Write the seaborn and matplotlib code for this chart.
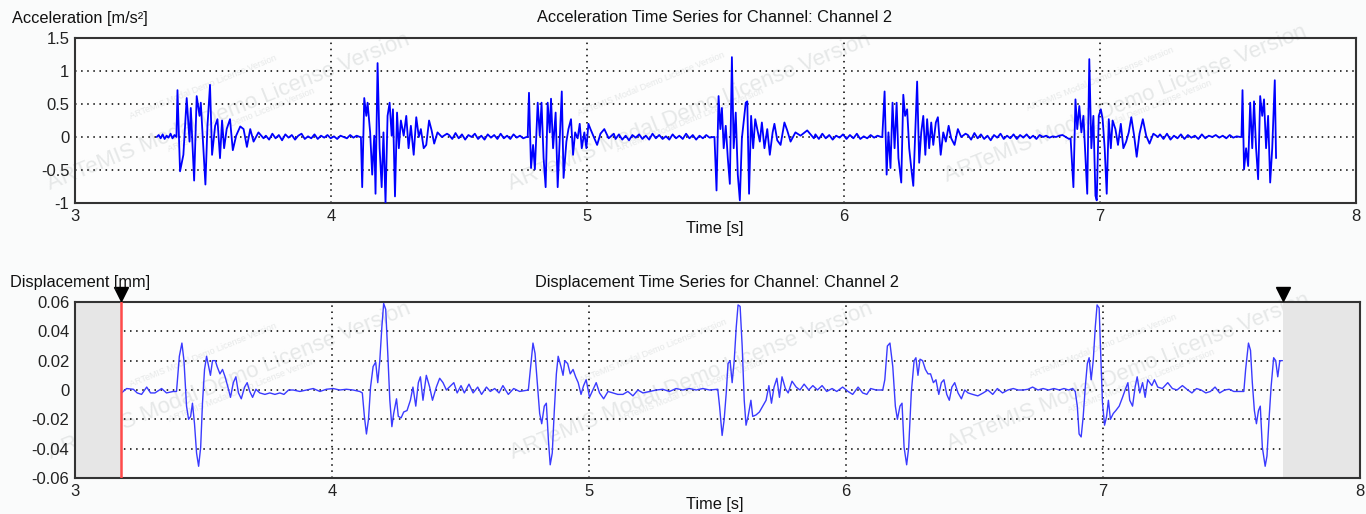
import numpy as np
import pandas as pd
import matplotlib
matplotlib.use("Agg")
import matplotlib.pyplot as plt
import seaborn as sns

sns.set_style("white")
plt.rcParams["font.family"] = ["Liberation Sans", "DejaVu Sans"]

# ---------------- Acceleration data [m/s^2] ----------------
ACC_B1_T = [3.400, 3.410, 3.423, 3.436, 3.447, 3.452, 3.465, 3.475, 3.486, 3.491, 3.501, 3.509, 3.517, 3.527,
            3.535, 3.547, 3.556, 3.566, 3.574, 3.582, 3.592, 3.605, 3.616, 3.629, 3.645, 3.658, 3.671, 3.684,
            3.697, 3.716, 3.736]
ACC_B1_V = [0.71, -0.52, -0.27, 0.59, -0.07, 0.44, -0.66, 0.62, 0.32, 0.52, -0.17, -0.72, 0.17, 0.79,
            -0.27, 0.17, 0.27, -0.32, 0.25, -0.17, 0.12, 0.27, -0.20, 0.02, 0.16, 0.12, -0.15, 0.12,
            -0.07, 0.07, -0.02]
ACC_B2_T = [4.116, 4.121, 4.129, 4.137, 4.142, 4.152, 4.160, 4.168, 4.173, 4.181, 4.189, 4.197, 4.204, 4.212,
            4.220, 4.228, 4.236, 4.241, 4.249, 4.257, 4.264, 4.272, 4.283, 4.293, 4.302, 4.311, 4.322, 4.332,
            4.342, 4.350, 4.361, 4.371, 4.382, 4.392, 4.402, 4.415, 4.432, 4.452]
ACC_B2_V = [0.00, -0.76, 0.59, 0.32, 0.52, 0.07, -0.57, 0.02, -0.86, 1.12, -0.17, -0.76, 0.07, -1.00,
            0.32, 0.52, 0.02, 0.42, -0.90, 0.37, -0.17, 0.25, 0.02, 0.32, -0.17, 0.17, -0.27, 0.30,
            0.00, 0.12, -0.17, -0.12, 0.25, 0.10, -0.10, 0.07, 0.00, 0.05]
ACC_B3_T = [4.767, 4.772, 4.780, 4.788, 4.795, 4.806, 4.814, 4.821, 4.829, 4.837, 4.845, 4.853, 4.858, 4.866,
            4.876, 4.884, 4.892, 4.900, 4.907, 4.918, 4.926, 4.936, 4.944, 4.952, 4.962, 4.970, 4.978, 4.988,
            4.996, 5.004, 5.012, 5.025, 5.038, 5.051, 5.066, 5.083, 5.103]
ACC_B3_V = [0.00, 0.67, -0.47, -0.12, -0.49, 0.52, 0.02, 0.52, -0.32, -0.76, 0.52, 0.07, 0.58, -0.17,
            0.37, -0.76, -0.02, 0.69, -0.62, -0.07, 0.12, 0.27, -0.27, 0.07, -0.02, 0.20, -0.17, 0.07,
            -0.17, 0.20, 0.12, 0.00, -0.12, 0.05, 0.12, -0.02, 0.05]
ACC_B4_T = [5.496, 5.504, 5.512, 5.519, 5.525, 5.532, 5.540, 5.548, 5.556, 5.564, 5.571, 5.579, 5.587, 5.595,
            5.603, 5.611, 5.618, 5.624, 5.631, 5.639, 5.647, 5.655, 5.663, 5.673, 5.681, 5.691, 5.702, 5.712,
            5.723, 5.730, 5.741, 5.754, 5.769, 5.780, 5.793, 5.812, 5.832, 5.858, 5.884]
ACC_B4_V = [0.00, -0.81, 0.62, 0.12, 0.44, -0.17, 0.17, -0.32, -0.71, 1.21, -0.17, 0.37, -0.57, -0.96,
            -0.02, 0.27, 0.52, 0.54, -0.86, 0.32, -0.17, 0.27, 0.12, -0.07, 0.22, -0.17, 0.12, -0.27,
            0.07, 0.20, -0.05, -0.12, 0.22, 0.10, -0.07, 0.07, 0.02, 0.10, -0.02]
ACC_B5_T = [6.151, 6.160, 6.168, 6.175, 6.183, 6.191, 6.199, 6.207, 6.214, 6.225, 6.233, 6.240, 6.248, 6.256,
            6.264, 6.272, 6.280, 6.287, 6.295, 6.303, 6.311, 6.319, 6.326, 6.334, 6.342, 6.350, 6.360, 6.368,
            6.379, 6.389, 6.399, 6.410, 6.420, 6.433, 6.446, 6.459, 6.476]
ACC_B5_V = [0.00, 0.69, -0.57, 0.07, -0.47, 0.52, -0.17, 0.52, -0.32, -0.69, 0.64, 0.32, 0.42, -0.17,
            -0.47, -0.74, 0.12, 0.84, -0.39, 0.07, 0.32, -0.27, 0.27, -0.17, 0.22, -0.12, 0.22, 0.30,
            -0.27, 0.07, -0.07, 0.17, -0.02, -0.12, 0.12, 0.00, 0.05]
ACC_B6_T = [6.886, 6.897, 6.905, 6.912, 6.920, 6.928, 6.936, 6.944, 6.951, 6.959, 6.967, 6.975, 6.983, 6.988,
            6.996, 7.004, 7.011, 7.019, 7.027, 7.035, 7.043, 7.050, 7.061, 7.071, 7.082, 7.092, 7.103, 7.113,
            7.123, 7.134, 7.144, 7.155, 7.168, 7.181, 7.194, 7.209, 7.227]
ACC_B6_V = [-0.02, -0.76, 0.57, 0.12, 0.47, 0.07, 0.32, -0.32, -0.86, 1.18, -0.17, 0.32, -0.89, -0.96,
            0.32, 0.42, 0.27, -0.17, -0.86, 0.27, -0.17, 0.25, 0.12, -0.12, 0.20, -0.17, -0.07, 0.07,
            0.30, 0.02, -0.30, 0.05, 0.27, 0.02, -0.10, 0.05, 0.00]
ACC_B7_T = [7.553, 7.557, 7.563, 7.571, 7.579, 7.587, 7.595, 7.602, 7.610, 7.618, 7.626, 7.634, 7.641, 7.649,
            7.657, 7.665, 7.673, 7.683, 7.688]
ACC_B7_V = [0.00, 0.71, -0.49, -0.17, -0.44, 0.52, -0.17, 0.54, -0.17, -0.64, 0.62, 0.32, 0.57, -0.17,
            0.32, -0.69, -0.17, 0.86, -0.32]

# quiet (low-level) stretches between the bursts: time span and the read values
QUIET_SPANS = [(3.319, 3.396), (3.745, 4.112), (4.460, 4.762), (5.110, 5.490),
               (5.890, 6.146), (6.485, 6.880), (7.235, 7.548)]
QUIET_1 = [0.0, 0.03, -0.02, 0.04, -0.03, 0.02, -0.01, 0.05, -0.02, 0.03, 0.0]
QUIET_2 = [0.02, -0.04, 0.05, -0.02, 0.03, -0.05, 0.04, -0.01, 0.03, -0.04, 0.02, 0.05, -0.03, 0.01, -0.02,
           0.04, -0.03, 0.02, -0.01, 0.03, -0.02, 0.01, -0.03, 0.02, 0.0, -0.02, 0.03, -0.01, 0.02, 0.0]
QUIET_3 = [0.03, -0.03, 0.06, -0.02, 0.04, -0.04, 0.03, 0.0, 0.05, -0.03, 0.02, -0.04, 0.04, -0.01, 0.03,
           -0.03, 0.05, -0.02, 0.02, -0.03, 0.04, -0.01, 0.02, -0.02, 0.0]
QUIET_4 = [-0.03, 0.04, -0.04, 0.02, -0.05, 0.03, -0.01, 0.04, -0.03, 0.02, -0.04, 0.05, -0.02, 0.03, -0.03,
           0.01, -0.04, 0.04, -0.02, 0.02, -0.03, 0.05, -0.02, 0.03, -0.04, 0.02, -0.02, 0.03, -0.01, 0.0]
QUIET_5 = [0.04, -0.03, 0.05, -0.02, 0.03, -0.04, 0.02, -0.01, 0.04, -0.03, 0.03, -0.02, 0.05, -0.03, 0.01,
           -0.02, 0.03, -0.01, 0.02, 0.0]
QUIET_6 = [0.03, -0.04, 0.06, -0.02, 0.04, -0.03, 0.02, -0.05, 0.03, -0.01, 0.05, -0.03, 0.02, -0.02, 0.04,
           -0.03, 0.03, -0.01, 0.04, -0.02, 0.02, -0.03, 0.03, 0.0, 0.02, -0.01, 0.01, 0.0, 0.02, 0.03, 0.0, -0.03]
QUIET_7 = [0.04, -0.03, 0.05, -0.04, 0.02, -0.02, 0.04, -0.03, 0.03, -0.01, 0.02, -0.03, 0.04, -0.02, 0.02,
           0.0, 0.03, -0.01, 0.02, -0.02, 0.03, -0.01, 0.01, 0.0]

# ---------------- Displacement data [mm] ----------------
DISP_A_T = [3.181, 3.201, 3.227, 3.242, 3.259, 3.279, 3.294, 3.311, 3.337, 3.356, 3.382, 3.395, 3.406, 3.416,
            3.424, 3.434, 3.442, 3.450, 3.457, 3.465, 3.473, 3.481, 3.489, 3.496, 3.504, 3.512, 3.520, 3.527,
            3.535, 3.546, 3.553, 3.564, 3.574, 3.584, 3.595, 3.605, 3.616, 3.626, 3.636, 3.647, 3.660, 3.670,
            3.680, 3.691, 3.704, 3.719, 3.739, 3.758, 3.778, 3.797, 3.813, 3.831, 3.849, 3.875, 3.901, 3.927,
            3.953, 3.978, 4.004, 4.030, 4.056, 4.082, 4.108, 4.118, 4.126, 4.134, 4.142, 4.150, 4.160, 4.170,
            4.178, 4.186, 4.194, 4.201, 4.209, 4.217, 4.225, 4.233, 4.240, 4.251, 4.258, 4.269, 4.279, 4.292,
            4.305, 4.315, 4.326, 4.336, 4.344, 4.354, 4.367, 4.380, 4.391, 4.406, 4.419, 4.432, 4.445]
DISP_A_V = [-0.002, 0.001, 0.0005, -0.002, -0.003, 0.002, -0.002, -0.002, 0.001, -0.002, -0.001, -0.001,
            0.023, 0.032, 0.020, -0.011, -0.020, -0.018, -0.009, -0.023, -0.043, -0.052, -0.039, -0.009,
            0.014, 0.023, 0.016, 0.010, 0.020, 0.020, 0.016, 0.011, 0.014, 0.009, 0.002, -0.005, 0.005, 0.009,
            -0.002, -0.006, 0.002, 0.005, -0.001, -0.005, 0.0005, -0.002, -0.003, -0.002, -0.003, -0.002,
            -0.003, 0.0, 0.0, -0.001, 0.0, 0.001, -0.001, 0.0005, 0.001, 0.0, 0.0005, 0.0, -0.001, -0.002,
            -0.018, -0.030, -0.020, 0.002, 0.016, 0.019, 0.005, 0.020, 0.043, 0.059, 0.055, 0.025, -0.007,
            -0.025, -0.016, -0.006, -0.018, -0.019, -0.015, -0.014, -0.007, 0.002, -0.011, 0.005, 0.009,
            -0.007, 0.010, 0.002, -0.007, 0.002, 0.008, 0.005, 0.0]
DISP_B_T = [4.474, 4.487, 4.502, 4.515, 4.533, 4.549, 4.567, 4.582, 4.601, 4.616, 4.633, 4.650, 4.665, 4.686,
            4.707, 4.730, 4.764, 4.772, 4.782, 4.790, 4.798, 4.808, 4.816, 4.826, 4.834, 4.842, 4.849, 4.857,
            4.865, 4.873, 4.880, 4.891, 4.899, 4.906, 4.917, 4.927, 4.938, 4.948, 4.958, 4.969, 4.979, 4.989,
            5.002, 5.015, 5.028, 5.041, 5.057, 5.074, 5.093, 5.112, 5.132, 5.151, 5.171, 5.190, 5.210, 5.236,
            5.262, 5.287, 5.313, 5.339, 5.365, 5.391, 5.417, 5.443, 5.469, 5.501, 5.508, 5.518, 5.526, 5.534,
            5.541, 5.549, 5.557, 5.565, 5.573, 5.580, 5.588, 5.596, 5.604, 5.611, 5.619, 5.630, 5.637, 5.650,
            5.663, 5.676, 5.689, 5.700, 5.710, 5.720, 5.731, 5.741, 5.751, 5.764, 5.775, 5.790, 5.806, 5.821,
            5.837, 5.855, 5.871, 5.889, 5.907, 5.925, 5.946, 5.964, 5.987, 6.008, 6.026, 6.047, 6.065, 6.081,
            6.096, 6.117, 6.143, 6.151, 6.161, 6.171, 6.182, 6.192, 6.200, 6.210, 6.218]
DISP_B_V = [0.005, -0.002, 0.003, -0.002, 0.004, -0.002, 0.002, -0.003, 0.002, -0.001, 0.001, -0.002, 0.003,
            -0.003, 0.001, -0.001, 0.0, 0.014, 0.032, 0.025, 0.007, -0.016, -0.023, -0.011, -0.009, -0.034,
            -0.051, -0.043, -0.014, 0.011, 0.023, 0.016, 0.010, 0.020, 0.018, 0.011, 0.014, 0.009, 0.005,
            -0.003, 0.003, 0.007, -0.005, 0.0, 0.005, -0.002, -0.006, -0.001, -0.002, -0.003, -0.003, -0.001,
            -0.004, 0.0, -0.002, -0.001, 0.0, 0.0005, -0.001, 0.001, 0.0, 0.001, 0.0, 0.001, 0.0, 0.0005,
            -0.011, -0.031, -0.020, -0.002, 0.018, 0.020, 0.005, 0.020, 0.043, 0.058, 0.057, 0.030, -0.007,
            -0.024, -0.018, -0.007, -0.018, -0.017, -0.015, -0.011, -0.007, 0.003, -0.009, 0.002, 0.008,
            -0.005, 0.009, 0.001, -0.002, 0.006, 0.002, 0.0, 0.004, 0.0, 0.003, 0.0, 0.003, -0.001, 0.001,
            -0.001, 0.002, -0.001, -0.003, 0.002, -0.002, -0.003, 0.001, 0.0, 0.0, 0.007, 0.030, 0.032,
            0.016, -0.011, -0.020, -0.011, -0.009]
DISP_C_T = [6.226, 6.236, 6.244, 6.254, 6.265, 6.272, 6.280, 6.288, 6.298, 6.309, 6.319, 6.329, 6.340, 6.350,
            6.361, 6.371, 6.381, 6.392, 6.402, 6.412, 6.423, 6.436, 6.449, 6.462, 6.475, 6.493, 6.513, 6.534,
            6.552, 6.571, 6.589, 6.609, 6.630, 6.651, 6.669, 6.690, 6.708, 6.726, 6.747, 6.767, 6.788, 6.809,
            6.830, 6.848, 6.866, 6.882, 6.892, 6.900, 6.907, 6.915, 6.923, 6.931, 6.939, 6.946, 6.954, 6.962,
            6.970, 6.977, 6.985, 6.990, 6.998, 7.006, 7.014, 7.021, 7.029, 7.040, 7.050, 7.063, 7.076, 7.086,
            7.097, 7.104, 7.115, 7.125, 7.133, 7.143, 7.154, 7.164, 7.174, 7.190, 7.200, 7.213, 7.231, 7.252,
            7.270, 7.288, 7.309, 7.330, 7.346, 7.364, 7.382, 7.400, 7.418, 7.436, 7.454, 7.473, 7.491, 7.509,
            7.530, 7.548, 7.555, 7.566, 7.574, 7.581, 7.589, 7.597, 7.605, 7.612, 7.620, 7.631, 7.638, 7.646,
            7.654, 7.664, 7.672, 7.680, 7.688, 7.698]
DISP_C_V = [-0.039, -0.051, -0.039, -0.002, 0.020, 0.022, 0.010, 0.021, 0.020, 0.014, 0.011, 0.011, 0.005,
            0.007, -0.003, 0.005, 0.007, -0.003, -0.007, 0.002, 0.005, -0.002, -0.006, 0.0, -0.002, -0.003,
            -0.004, -0.002, 0.0, -0.003, 0.001, -0.002, 0.0, 0.001, 0.0, 0.0, 0.0005, 0.002, 0.0, 0.001, 0.0,
            0.001, 0.0, 0.001, 0.0, 0.001, -0.001, -0.011, -0.030, -0.032, -0.018, 0.002, 0.018, 0.022, 0.007,
            0.020, 0.043, 0.058, 0.056, 0.030, -0.009, -0.024, -0.018, -0.007, -0.020, -0.016, -0.014, -0.011,
            -0.005, 0.0, 0.005, -0.007, -0.011, 0.002, 0.009, -0.002, 0.005, -0.005, 0.007, 0.003, 0.007,
            0.002, 0.001, 0.005, 0.001, 0.0, 0.003, 0.0, -0.002, 0.001, 0.0, -0.002, -0.001, 0.002, -0.002,
            0.0, 0.0005, -0.001, -0.001, -0.001, 0.014, 0.032, 0.027, 0.005, -0.014, -0.023, -0.014, -0.011,
            -0.039, -0.052, -0.045, -0.020, 0.002, 0.022, 0.020, 0.009, 0.020, 0.020]

# selection window (red start line + grey excluded regions)
SEL_START = 3.179
SEL_END = 7.700

ACC_YTICKS = [-1, -0.5, 0, 0.5, 1, 1.5]
ACC_YLABELS = ["-1", "-0.5", "0", "0.5", "1", "1.5"]
DISP_YTICKS = [-0.06, -0.04, -0.02, 0, 0.02, 0.04, 0.06]
DISP_YLABELS = ["-0.06", "-0.04", "-0.02", "0", "0.02", "0.04", "0.06"]
X_TICKS = [3, 4, 5, 6, 7, 8]

# ---------------- assemble tables ----------------
quiet_vals = [QUIET_1, QUIET_2, QUIET_3, QUIET_4, QUIET_5, QUIET_6, QUIET_7]
burst_t = [ACC_B1_T, ACC_B2_T, ACC_B3_T, ACC_B4_T, ACC_B5_T, ACC_B6_T, ACC_B7_T]
burst_v = [ACC_B1_V, ACC_B2_V, ACC_B3_V, ACC_B4_V, ACC_B5_V, ACC_B6_V, ACC_B7_V]
acc_t, acc_v = [], []
for (s, e), qv, bt, bv in zip(QUIET_SPANS, quiet_vals, burst_t, burst_v):
    acc_t.extend(np.linspace(s, e, len(qv)))
    acc_v.extend(qv)
    acc_t.extend(bt)
    acc_v.extend(bv)
acc_df = pd.DataFrame({"time": acc_t, "acc": acc_v})
disp_df = pd.DataFrame({"time": DISP_A_T + DISP_B_T + DISP_C_T,
                        "disp": DISP_A_V + DISP_B_V + DISP_C_V})

# ---------------- figure ----------------
W, H = 1366, 514
fig = plt.figure(figsize=(W / 100, H / 100), dpi=100, facecolor="#fafbfb")
ax1 = fig.add_axes([75 / W, 1 - 203 / H, (1356 - 75) / W, (203 - 38) / H])
ax2 = fig.add_axes([75 / W, 1 - 478 / H, (1360 - 75) / W, (478 - 302) / H])

wm_color = "#e6e8e8"
for ax in (ax1, ax2):
    ax.set_facecolor("#fdfdfd")
    ax.set_xlim(3, 8)
    ax.set_xticks(X_TICKS)
    ax.set_xticklabels([str(x) for x in X_TICKS])
    ax.grid(True, linestyle=(0, (1, 3)), color="black", linewidth=1.1)
    ax.tick_params(axis="both", length=0, labelsize=12, pad=4, colors="#222222")
    for sp in ax.spines.values():
        sp.set_color("#333333")
        sp.set_linewidth(1.5)
        sp.set_visible(True)
    # watermark
    for (xf, yf, fs) in [(0.12, 0.55, 16), (0.48, 0.55, 16), (0.82, 0.6, 16)]:
        ax.text(xf, yf, "ARTeMIS Modal Demo License Version", transform=ax.transAxes,
                rotation=22, fontsize=fs, color=wm_color, ha="center", va="center", zorder=0)
    for (xf, yf) in [(0.1, 0.7), (0.13, 0.5), (0.45, 0.72), (0.48, 0.5), (0.8, 0.75), (0.83, 0.55)]:
        ax.text(xf, yf, "ARTeMIS Modal Demo License Version", transform=ax.transAxes,
                rotation=22, fontsize=6.5, color=wm_color, ha="center", va="center", zorder=0)

# top: acceleration
sns.lineplot(data=acc_df, x="time", y="acc", ax=ax1, color="#0000ff", linewidth=1.3,
             estimator=None, sort=False, zorder=3)
ax1.set_ylim(-1, 1.5)
ax1.set_yticks(ACC_YTICKS)
ax1.set_yticklabels(ACC_YLABELS)
ax1.set_xlabel("")
ax1.set_ylabel("")

# bottom: displacement
ax2.axvspan(3, SEL_START, color="#e6e6e6", zorder=1, lw=0)
ax2.axvspan(SEL_END, 8, color="#e6e6e6", zorder=1, lw=0)
sns.lineplot(data=disp_df, x="time", y="disp", ax=ax2, color="#3a3aff", linewidth=1.0,
             estimator=None, sort=False, zorder=3)
ax2.axvline(SEL_START, color="#ff4a4a", linewidth=1.8, zorder=4)
ax2.set_ylim(-0.06, 0.06)
ax2.set_yticks(DISP_YTICKS)
ax2.set_yticklabels(DISP_YLABELS)
ax2.plot([SEL_START, SEL_END], [0.0655, 0.0655], linestyle="none", marker="v", color="black",
         markersize=10, clip_on=False, zorder=6)
ax2.set_xlabel("")
ax2.set_ylabel("")

# texts
fig.text(12 / W, 1 - 18 / H, "Acceleration [m/s²]", fontsize=11.8, ha="left", va="center", color="#111111")
fig.text(715 / W, 1 - 18 / H, "Acceleration Time Series for Channel: Channel 2", fontsize=11.8,
         ha="center", va="center", color="#111111")
fig.text(715 / W, 1 - 229 / H, "Time [s]", fontsize=11.8, ha="center", va="center", color="#111111")
fig.text(10 / W, 1 - 282 / H, "Displacement [mm]", fontsize=11.8, ha="left", va="center", color="#111111")
fig.text(717 / W, 1 - 282 / H, "Displacement Time Series for Channel: Channel 2", fontsize=11.8,
         ha="center", va="center", color="#111111")
fig.text(715 / W, 1 - 504 / H, "Time [s]", fontsize=11.8, ha="center", va="center", color="#111111")

fig.savefig("out.png", dpi=100, facecolor=fig.get_facecolor())
